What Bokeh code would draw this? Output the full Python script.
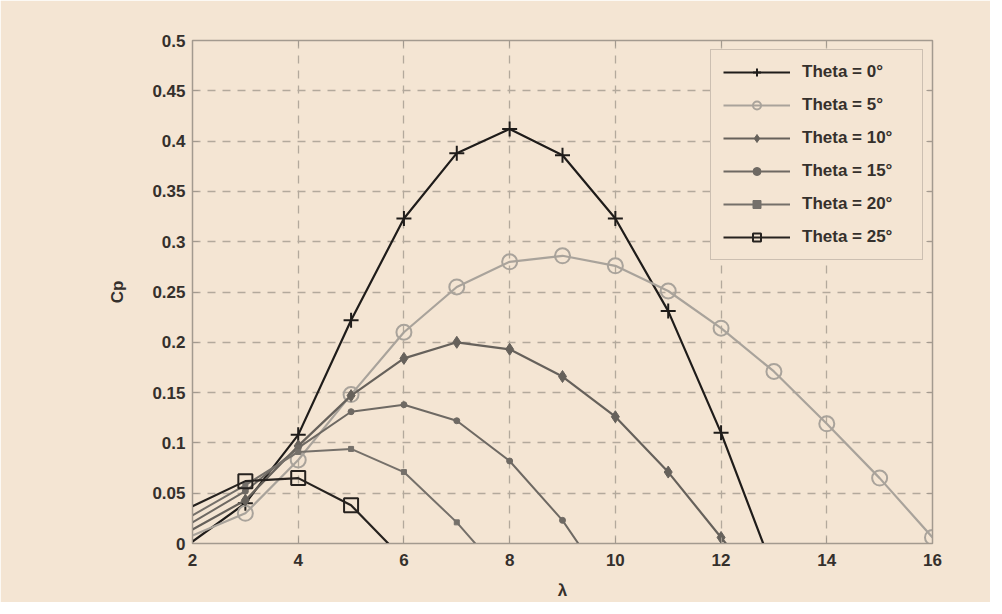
from bokeh.plotting import figure
from bokeh.models import LinearAxis, FixedTicker, Legend
from bokeh.embed import file_html
from bokeh.resources import INLINE

# lambda values (tip speed ratio)
lam = [2, 3, 4, 5, 6, 7, 8, 9, 10, 11, 12, 13, 14, 15, 16]

# Cp (values past the zero crossing are clipped by the axes)
cp_theta0 = [0.002, 0.040, 0.108, 0.222, 0.323, 0.388, 0.412, 0.386, 0.323, 0.231, 0.110, -0.028]
cp_theta5 = [0.008, 0.030, 0.083, 0.148, 0.210, 0.255, 0.280, 0.286, 0.276, 0.251, 0.214, 0.171, 0.119, 0.065, 0.006]
cp_theta10 = [0.014, 0.043, 0.097, 0.147, 0.184, 0.200, 0.193, 0.166, 0.126, 0.071, 0.006, -0.060]
cp_theta15 = [0.021, 0.052, 0.095, 0.131, 0.138, 0.122, 0.082, 0.023, -0.054]
cp_theta20 = [0.028, 0.058, 0.091, 0.094, 0.071, 0.021, -0.039]
cp_theta25 = [0.037, 0.062, 0.065, 0.038, -0.016]

labels = ["Theta = 0°", "Theta = 5°", "Theta = 10°", "Theta = 15°", "Theta = 20°", "Theta = 25°"]
series = [cp_theta0, cp_theta5, cp_theta10, cp_theta15, cp_theta20, cp_theta25]

x_ticks = [2, 4, 6, 8, 10, 12, 14, 16]
y_ticks = [0, 0.05, 0.1, 0.15, 0.2, 0.25, 0.3, 0.35, 0.4, 0.45, 0.5]
y_tick_labels = {0: "0", 0.05: "0.05", 0.1: "0.1", 0.15: "0.15", 0.2: "0.2", 0.25: "0.25",
                 0.3: "0.3", 0.35: "0.35", 0.4: "0.4", 0.45: "0.45", 0.5: "0.5"}

BG = "#f4e5d3"
FRAME = "#a39a8f"
TXT = "#35302c"
FONT = "Liberation Sans"

p = figure(width=990, height=602, output_backend="svg", toolbar_location=None,
           x_range=(2, 16), y_range=(0, 0.5),
           min_border_left=192, min_border_right=58, min_border_top=40, min_border_bottom=59)
p.background_fill_color = BG
p.border_fill_color = BG
p.outline_line_color = FRAME
p.outline_line_width = 1.5

for ax in [p.xaxis[0], p.yaxis[0]]:
    ax.axis_line_color = FRAME
    ax.major_tick_line_color = FRAME
    ax.minor_tick_line_color = None
    ax.major_tick_in = 6
    ax.major_tick_out = 0
    ax.major_label_text_font = FONT
    ax.major_label_text_font_style = "bold"
    ax.major_label_text_font_size = "17px"
    ax.major_label_text_color = TXT
    ax.axis_label_text_font = FONT
    ax.axis_label_text_font_style = "bold"
    ax.axis_label_text_font_size = "17px"
    ax.axis_label_text_color = TXT

p.xaxis.ticker = FixedTicker(ticks=x_ticks)
p.yaxis.ticker = FixedTicker(ticks=y_ticks)
p.yaxis.major_label_overrides = y_tick_labels
p.xaxis.axis_label = "λ"
p.yaxis.axis_label = "Cp"
p.xaxis.major_label_standoff = 10
p.yaxis.major_label_standoff = 7
p.xaxis.axis_label_standoff = 12
p.yaxis.axis_label_standoff = 22

# ticks on top and right (inward), no labels
top = LinearAxis(ticker=FixedTicker(ticks=x_ticks))
right = LinearAxis(ticker=FixedTicker(ticks=y_ticks))
for ax in [top, right]:
    ax.axis_line_color = FRAME
    ax.major_tick_line_color = FRAME
    ax.minor_tick_line_color = None
    ax.major_tick_in = 6
    ax.major_tick_out = 0
    ax.major_label_text_color = None
p.add_layout(top, "above")
p.add_layout(right, "right")

p.xgrid.ticker = FixedTicker(ticks=x_ticks)
p.ygrid.ticker = FixedTicker(ticks=y_ticks)
for g in [p.xgrid[0], p.ygrid[0]]:
    g.grid_line_color = "#b3a99c"
    g.grid_line_dash = "8 7"
    g.grid_line_width = 1.3

colors = ["#1f1c1a", "#a9a39b", "#66615b", "#6e6963", "#75706a", "#26221f"]
widths = [2.2, 2.2, 2.2, 2.0, 2.0, 2.2]

items = []
for i, (ys, lab) in enumerate(zip(series, labels)):
    xs = lam[:len(ys)]
    r = p.line(xs, ys, line_color=colors[i], line_width=widths[i])
    mx, my = xs[1:], ys[1:]  # no marker drawn on the left edge
    if i == 0:
        m = p.scatter(mx, my, marker="cross", size=15, line_color=colors[i], line_width=2)
    elif i == 1:
        m = p.scatter(mx, my, marker="circle", size=15, line_color=colors[i], fill_color=None, line_width=2)
    elif i == 2:
        m = p.scatter(mx, my, marker="diamond", size=12, line_color=colors[i], fill_color=colors[i], line_width=1)
    elif i == 3:
        m = p.scatter(mx, my, marker="circle", size=6, line_color=colors[i], fill_color=colors[i])
    elif i == 4:
        m = p.scatter(mx, my, marker="square", size=5, line_color=colors[i], fill_color=colors[i])
    else:
        m = p.scatter(mx, my, marker="square", size=14, line_color=colors[i], fill_color=None, line_width=2)
    items.append((lab, [r, m]))

legend = Legend(items=items, location=(518, 283))
legend.background_fill_color = BG
legend.background_fill_alpha = 1.0
legend.border_line_color = FRAME
legend.border_line_width = 1.5
legend.glyph_width = 67
legend.glyph_height = 20
legend.label_height = 20
legend.label_width = 108
legend.spacing = 13
legend.padding = 12
legend.margin = 0
legend.label_standoff = 12
legend.label_text_font = FONT
legend.label_text_font_style = "bold"
legend.label_text_font_size = "17px"
legend.label_text_color = TXT
p.add_layout(legend, "center")

open("out.html", "w").write(file_html(p, INLINE))
